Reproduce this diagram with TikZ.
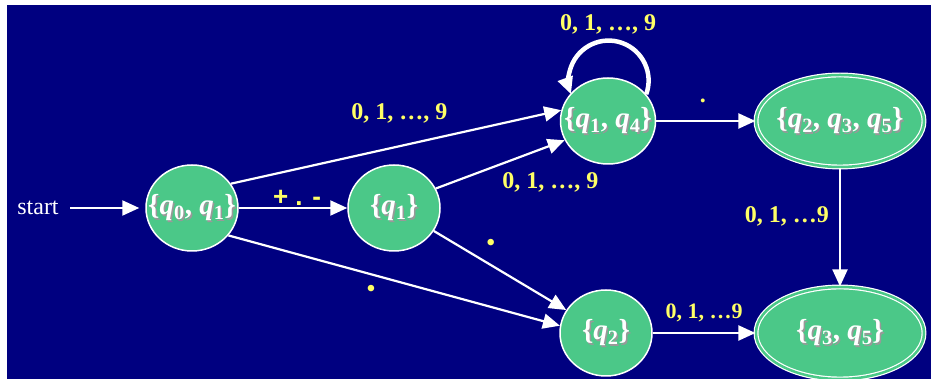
\documentclass[tikz,border=0pt]{standalone}
\usepackage{fontspec}
\setmainfont{Liberation Serif}
\newfontfamily\labelsans{Liberation Sans}
\usetikzlibrary{shapes.geometric,arrows.meta,positioning}

\definecolor{slidenavy}{RGB}{0,0,128}
\definecolor{stategreen}{RGB}{75,200,136}
\definecolor{labelyellow}{RGB}{255,255,102}

% state names: white text with a soft grey shadow
\newcommand{\statetext}[1]{%
    \fontsize{29}{30}\selectfont\bfseries
    \makebox[0pt]{\kern3pt\raisebox{-1.5pt}[0pt][0pt]{\textcolor{black!40}{#1}}}%
    \makebox[0pt]{#1}}
\newcommand{\qs}[1]{\textit{q}\textsubscript{#1}}

\tikzstyle{state} = [ellipse, draw=white, line width=1.5pt, fill=stategreen,
    text=white, inner sep=0pt, minimum width=92pt, minimum height=86pt]
\tikzstyle{accept} = [state, double=stategreen, double distance=2.5pt,
    line width=1.2pt, minimum width=168pt, minimum height=92pt]
\tikzstyle{trans} = [draw=white, line width=2.2pt, -{Triangle[length=17pt,width=15pt]}]
\tikzstyle{selfloop} = [trans, line width=4.5pt]
\tikzstyle{lbl} = [text=labelyellow, font=\fontsize{24}{26}\selectfont\bfseries, inner sep=1pt]
\tikzstyle{dotlbl} = [text=labelyellow, font=\fontsize{24}{26}\selectfont\bfseries, inner sep=0pt]
\tikzstyle{pmlbl} = [text=labelyellow, font=\labelsans\bfseries\fontsize{26}{28}\selectfont, inner sep=1pt]

\begin{document}
\begin{tikzpicture}[x=1pt,y=1pt]
    \useasboundingbox (0,0) rectangle (931,379);
    \fill [slidenavy] (7,0) rectangle (931,374);

%------------ Zustaende ---------------------
    \node [text=white, font=\fontsize{24}{26}\selectfont] (start) at (38,171) {start};
    \node [state] (q01) at (192,171) {\statetext{\{\qs{0}, \qs{1}\}}};
    \node [state] (q1) at (394,171) {\statetext{\{\qs{1}\}}};
    \node [state, minimum width=95pt] (q14) at (608,258) {\statetext{\{\qs{1}, \qs{4}\}}};
    \node [accept] (q235) at (840,258) {\statetext{\{\qs{2}, \qs{3}, \qs{5}\}}};
    \node [state] (q2) at (606,46) {\statetext{\{\qs{2}\}}};
    \node [accept] (q35) at (840,46) {\statetext{\{\qs{3}, \qs{5}\}}};

%------------ Uebergaenge ---------------------
    \draw [trans, shorten <=8pt, shorten >=6pt] (start) -- (q01);
    \draw [trans] (q01) -- node [pmlbl, midway, anchor=base, xshift=4pt, yshift=2pt] {+ . -} (q1);
    \draw [trans] (q01.32) -- node [lbl, pos=0.51, above=21pt] {0, 1, …, 9} (q14.167);
    \draw [trans] (q1.25) -- node [lbl, pos=0.5, anchor=north west, yshift=-6pt] {0, 1, …, 9} (q14.204);
    \draw [trans] (q01.323) -- node [dotlbl, pos=0.43, yshift=-17pt] {\textbullet} (q2.171);
    \draw [trans] (q1.330) -- node [dotlbl, pos=0.43, yshift=20pt] {\textbullet} (q2.150);
    \draw [trans] (q14) -- node [dotlbl, pos=0.47, yshift=20pt] {.} (q235);
    \draw [trans] (q235) -- node [lbl, pos=0.41, left=9pt] {0, 1, …9} (q35);
    \draw [trans] (q2) -- node [lbl, above=9pt, font=\fontsize{22}{24}\selectfont\bfseries] {0, 1, …9} (q35);

%------------ Schleife an {q1, q4} ---------------------
    \draw [selfloop] (q14.35) arc [start angle=-20, end angle=200, radius=40];
    \node [lbl, above=42pt of q14] (looplbl) {0, 1, …, 9};
\end{tikzpicture}
\end{document}
